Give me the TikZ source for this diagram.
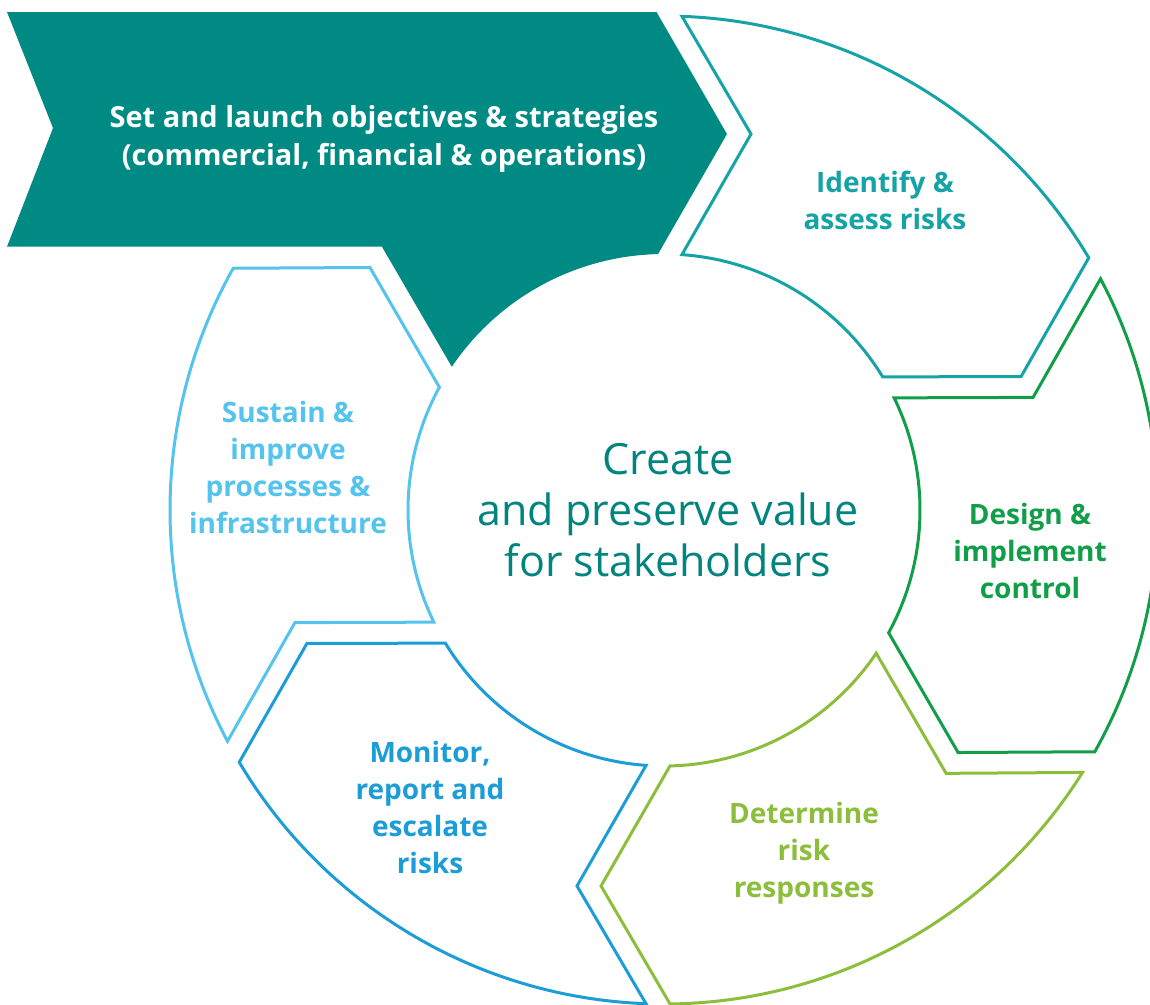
\documentclass[tikz,border=0pt]{standalone}
\usepackage{fontspec}
\setmainfont{Open Sans}
\usepackage{color}
\usepackage{tikz}
\definecolor{bannerteal}{RGB}{0,138,132}
\definecolor{idteal}{RGB}{22,163,166}
\definecolor{designgreen}{RGB}{16,158,72}
\definecolor{respgreen}{RGB}{140,190,60}
\definecolor{monblue}{RGB}{28,157,216}
\definecolor{sustblue}{RGB}{84,195,238}
\definecolor{hubteal}{RGB}{0,132,126}
\tikzstyle{every node}+=[inner sep=0pt]

\begin{document}
\begin{tikzpicture}[x=1pt, y=1pt, shift={(664,-510)}]
        \tikzstyle{segment}=[line width=3pt, fill=white]
        \tikzstyle{segtext}=[align=center, font=\bfseries\fontsize{28}{37}\selectfont]
        \useasboundingbox (-664,-494) rectangle (486,510);
        % banner at the top left
        \fill [bannerteal] (-657,498) -- (-7.49,498) -- (80.49:381.2) -- (91.34:256)
            arc (91.34:145.98:256) -- (136.97:385.9) -- (-657,263.3) -- (-611,382) -- cycle;
        \node (banner) [text=white, align=center, font=\bfseries\fontsize{29}{38}\selectfont] at (-280,371)
            {Set and launch objectives \& strategies\\(commercial, financial \& operations)};
        % ring pieces, clockwise from the top
        \draw [segment, draw=idteal] (87.91:494) arc (87.91:30.70:494) -- (20.49:381.2) -- (31.34:256)
            arc (31.34:85.98:256) -- (76.97:385.9) -- cycle;
        \node (identify) [segtext, text=idteal] at (221,310) {Identify \&\\assess risks};
        \draw [segment, draw=designgreen] (27.91:494) arc (27.91:-29.30:494) -- (-39.51:381.2) -- (-28.66:256)
            arc (-28.66:25.98:256) -- (16.97:385.9) -- cycle;
        \node (design) [segtext, text=designgreen] at (366,-41) {Design \&\\implement\\control};
        \draw [segment, draw=respgreen] (-32.09:494) arc (-32.09:-89.30:494) -- (-99.51:381.2) -- (-88.66:256)
            arc (-88.66:-34.02:256) -- (-43.03:385.9) -- cycle;
        \node (determine) [segtext, text=respgreen] at (140,-343) {Determine\\risk\\responses};
        \draw [segment, draw=monblue] (-92.09:494) arc (-92.09:-149.30:494) -- (-159.51:381.2) -- (-148.66:256)
            arc (-148.66:-94.02:256) -- (-103.03:385.9) -- cycle;
        \node (monitor) [segtext, text=monblue] at (-234,-297) {Monitor,\\report and\\escalate\\risks};
        \draw [segment, draw=sustblue] (-152.09:494) arc (-152.09:-209.30:494) -- (-219.51:381.2) -- (-208.66:256)
            arc (-208.66:-154.02:256) -- (-163.03:385.9) -- cycle;
        \node (sustain) [segtext, text=sustblue] at (-376,43) {Sustain \&\\improve\\processes \&\\infrastructure};
        % hub
        \node (hub) [align=center, text=hubteal, font=\fontsize{43}{51}\selectfont] at (4,0)
            {Create\\and preserve value\\for stakeholders};
\end{tikzpicture}
\end{document}
